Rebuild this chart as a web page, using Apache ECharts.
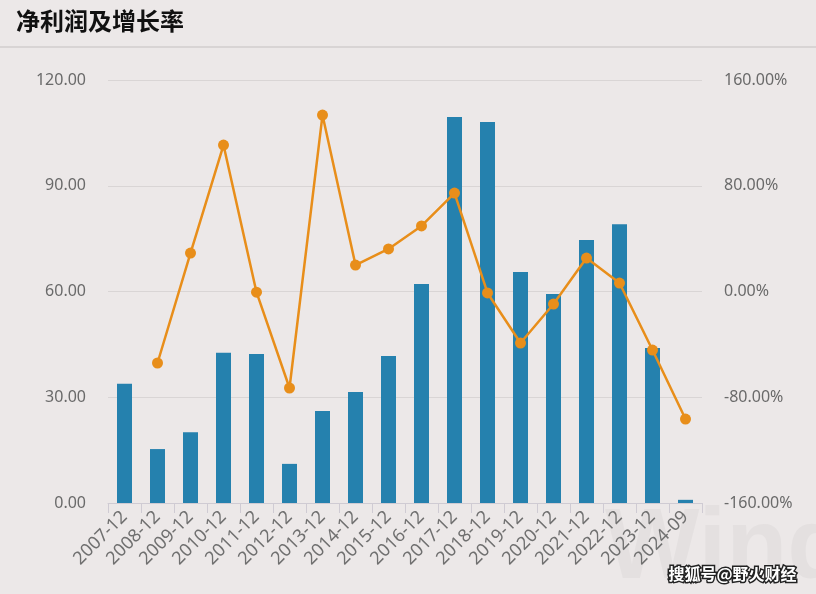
<!DOCTYPE html>
<html>
<head>
<meta charset="utf-8">
<script src="https://cdn.jsdelivr.net/npm/echarts@6/dist/echarts.min.js"></script>
<style>
html,body{margin:0;padding:0;background:#ece8e8;}
#main{width:816px;height:594px;}
</style>
</head>
<body>
<div id="main"></div>
<script>
// 报告期
var periods = ['2007-12','2008-12','2009-12','2010-12','2011-12','2012-12','2013-12','2014-12','2015-12',
  '2016-12','2017-12','2018-12','2019-12','2020-12','2021-12','2022-12','2023-12','2024-09'];
// 净利润(亿元)
var netProfit = [33.8, 15.3, 20.1, 42.6, 42.3, 11.1, 26.1, 31.5, 41.7, 62.1, 109.5, 108.1, 65.5, 59.3, 74.6, 79.1, 44.0, 0.9];
// 增长率(%)
var growth = [null, -54.1, 29.1, 110.8, -0.5, -73.0, 133.5, 20.0, 32.2, 49.6, 74.5, -1.1, -39.0, -9.5, 25.3, 6.4, -44.3, -96.5];

var chart = echarts.init(document.getElementById('main'));
var option = {
  backgroundColor: '#ece8e8',
  animation: false,
  title: {
    text: '净利润及增长率',
    left: 11, top: 4,
    textStyle: {fontSize: 24, fontWeight: 'bold', color: '#111', fontFamily: 'Noto Sans CJK SC'}
  },
  graphic: [
    {type: 'line', shape: {x1: 0, y1: 47, x2: 816, y2: 47}, style: {stroke: '#c4c0c0', lineWidth: 1}},
    {type: 'text', left: 605, top: 500, z: -1, style: {text: 'Wind', fontSize: 100, fontWeight: 'bold', fill: '#e4e0e0', fontFamily: 'Liberation Sans'}},
    {type: 'text', left: 667, top: 564, style: {text: '搜狐号@野火财经', fontSize: 16, fontWeight: 'bold', fill: '#fff', stroke: '#222', lineWidth: 3, fontFamily: 'Noto Sans CJK SC'}}
  ],
  grid: {left: 108, right: 114, top: 80, bottom: 91},
  xAxis: {
    type: 'category',
    data: periods,
    axisLine: {lineStyle: {color: '#cfcbd3'}},
    axisTick: {show: true, length: 10, lineStyle: {color: '#cfcbd3'}},
    axisLabel: {rotate: 45, color: '#707070', fontSize: 18, margin: 11, interval: 0, fontFamily: 'Noto Sans'}
  },
  yAxis: [
    {
      type: 'value', min: 0, max: 120, interval: 30,
      axisLine: {show: false}, axisTick: {show: false},
      axisLabel: {color: '#6a6a6a', fontSize: 16, margin: 22, fontFamily: 'Noto Sans',
        formatter: function (v) { return v.toFixed(2); }},
      splitLine: {lineStyle: {color: '#d9d5d5', width: 1}}
    },
    {
      type: 'value', min: -160, max: 160, interval: 80,
      axisLine: {show: false}, axisTick: {show: false},
      axisLabel: {color: '#6a6a6a', fontSize: 16, margin: 22, fontFamily: 'Noto Sans',
        formatter: function (v) { return v.toFixed(2) + '%'; }},
      splitLine: {show: false}
    }
  ],
  series: [
    {
      name: '净利润', type: 'bar', data: netProfit, barWidth: 15,
      itemStyle: {color: '#2581ae'}
    },
    {
      name: '增长率', type: 'line', yAxisIndex: 1, data: growth,
      symbol: 'circle', symbolSize: 11,
      lineStyle: {color: '#e88e1a', width: 2.5},
      itemStyle: {color: '#e88e1a'}
    }
  ]
};
chart.setOption(option);
</script>
</body>
</html>
